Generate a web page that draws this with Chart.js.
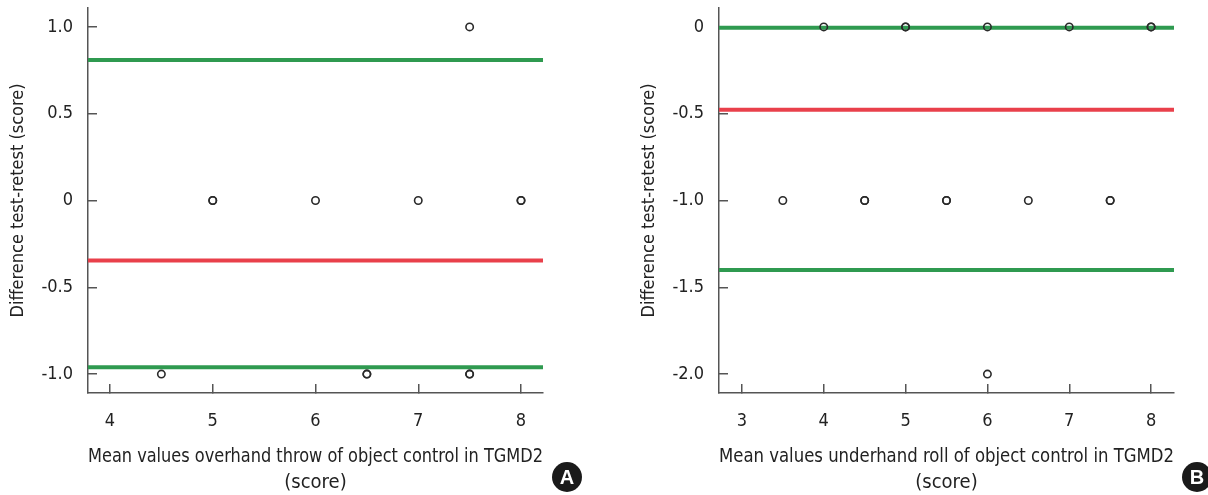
<!DOCTYPE html>
<html><head><meta charset="utf-8">
<script src="https://cdn.jsdelivr.net/npm/chart.js@4"></script>
<style>
html,body{margin:0;padding:0;background:#fff;}
#wrap{position:relative;width:1208px;height:495px;overflow:hidden;}
.panel{position:absolute;top:0;width:604px;height:495px;}
.badge{position:absolute;width:30px;height:30px;border-radius:50%;background:#1a1a1a;color:#fff;font:bold 20px 'Liberation Sans', Arial, sans-serif;text-align:center;line-height:31px;}
</style></head>
<body>
<div id="wrap">
  <div class="panel" style="left:0"><canvas id="cA" width="604" height="495"></canvas></div>
  <div class="panel" style="left:604px"><canvas id="cB" width="604" height="495"></canvas></div>
  <div class="badge" style="left:552px;top:462px">A</div>
  <div class="badge" style="left:1182px;top:462px">B</div>
</div>
<script>
// ---- Panel A data ----
const xTicksA = [4, 5, 6, 7, 8];
const yTicksA = [1.0, 0.5, 0, -0.5, -1.0];
const meanA = [4.5, 5, 5, 6, 6.5, 6.5, 7, 7.5, 7.5, 7.5, 8, 8];
const diffA = [-1, 0, 0, 0, -1, -1, 0, 1, -1, -1, 0, 0];
const upperA = 0.81;
const biasA = -0.345;
const lowerA = -0.96;
const xRangeA = [3.786, 8.214];
const yRangeA = [-1.109, 1.109];
const xTitleA = ['Mean values overhand throw of object control in TGMD2', '(score)'];

// ---- Panel B data ----
const xTicksB = [3, 4, 5, 6, 7, 8];
const yTicksB = [0, -0.5, -1.0, -1.5, -2.0];
const meanB = [3.5, 4, 4.5, 4.5, 5, 5, 5.5, 5.5, 6, 6, 6.5, 7, 7.5, 7.5, 8, 8];
const diffB = [-1, 0, -1, -1, 0, 0, -1, -1, 0, -2, -1, 0, -1, -1, 0, 0];
const upperB = -0.005;
const biasB = -0.477;
const lowerB = -1.40;
const xRangeB = [2.72, 8.28];
const yRangeB = [-2.109, 0.109];
const xTitleB = ['Mean values underhand roll of object control in TGMD2', '(score)'];

const yTitle = 'Difference test-retest (score)';

const FONT = "'Liberation Sans Narrow', 'DejaVu Sans Condensed', 'Roboto Condensed', Roboto, sans-serif";
const GREEN = '#2f9a50';
const RED = '#e9404b';
const AXIS = '#555555';
const TEXT = '#222222';

function fmt(v) { return v === 0 ? '0' : v.toFixed(1); }

function makeChart(id, o) {
  const pts = o.mean.map((m, i) => ({x: m, y: o.diff[i]}));
  const hline = (y) => [{x: o.xRange[0], y: y}, {x: o.xRange[1], y: y}];
  new Chart(document.getElementById(id), {
    type: 'scatter',
    data: {
      datasets: [
        {type: 'scatter', data: pts, pointRadius: 3.7, pointBorderWidth: 1.6,
         pointBorderColor: '#2a2a2a', pointBackgroundColor: 'rgba(0,0,0,0)'},
        {type: 'line', data: hline(o.upper), borderColor: GREEN, borderWidth: 4, pointRadius: 0},
        {type: 'line', data: hline(o.bias), borderColor: RED, borderWidth: 4, pointRadius: 0},
        {type: 'line', data: hline(o.lower), borderColor: GREEN, borderWidth: 4, pointRadius: 0}
      ]
    },
    options: {
      responsive: false,
      animation: false,
      events: [],
      layout: {padding: {left: 0, top: 8, right: o.rightPad, bottom: 0}},
      plugins: {legend: {display: false}, tooltip: {enabled: false}},
      scales: {
        x: {
          type: 'linear', min: o.xRange[0], max: o.xRange[1],
          afterBuildTicks: s => { s.ticks = o.xTicks.map(v => ({value: v})); },
          afterFit: s => { s.height = 102; s.paddingLeft = 0; s.paddingRight = 0; },
          ticks: {padding: 27, maxRotation: 0, autoSkip: false, color: TEXT, font: {family: FONT, size: 18}},
          grid: {display: true, drawOnChartArea: false, drawTicks: true, tickLength: -9, color: AXIS, lineWidth: 1.5},
          border: {display: true, color: AXIS, width: 1.5},
          title: {display: true, text: o.xTitle, color: TEXT, padding: {top: 0, bottom: -1},
                  font: {family: FONT, size: 20, lineHeight: 1.3}}
        },
        y: {
          type: 'linear', min: o.yRange[0], max: o.yRange[1],
          afterBuildTicks: s => { s.ticks = o.yTicks.map(v => ({value: v})); },
          afterFit: s => { s.width = o.yWidth; s.paddingTop = 0; s.paddingBottom = 0; },
          ticks: {padding: 24, autoSkip: false, color: TEXT, font: {family: FONT, size: 18}, callback: v => fmt(v)},
          grid: {display: true, drawOnChartArea: false, drawTicks: true, tickLength: -9, color: AXIS, lineWidth: 1.5},
          border: {display: true, color: AXIS, width: 1.5},
          title: {display: true, text: yTitle, color: TEXT, padding: {top: o.yTitlePad, bottom: 0},
                  font: {family: FONT, size: 18, lineHeight: 1.2}}
        }
      }
    }
  });
}

makeChart('cA', {mean: meanA, diff: diffA, upper: upperA, bias: biasA, lower: lowerA,
  xRange: xRangeA, yRange: yRangeA, xTicks: xTicksA, yTicks: yTicksA, xTitle: xTitleA,
  rightPad: 61, yWidth: 88, yTitlePad: 8});
makeChart('cB', {mean: meanB, diff: diffB, upper: upperB, bias: biasB, lower: lowerB,
  xRange: xRangeB, yRange: yRangeB, xTicks: xTicksB, yTicks: yTicksB, xTitle: xTitleB,
  rightPad: 34, yWidth: 115, yTitlePad: 35});
</script>
</body></html>
